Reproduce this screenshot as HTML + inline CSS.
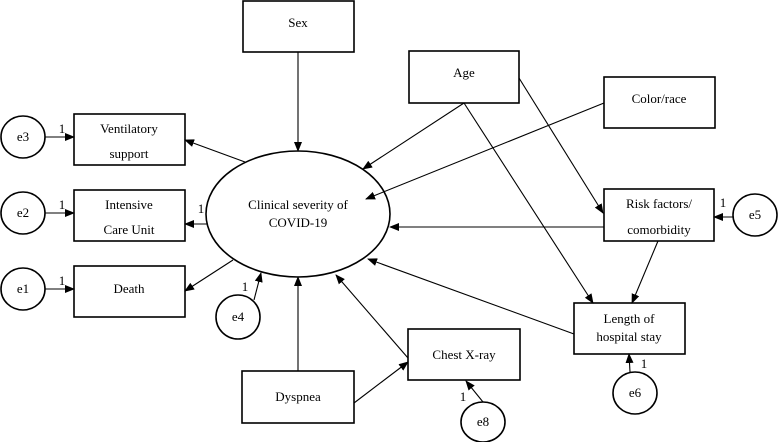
<!DOCTYPE html>
<html><head><meta charset="utf-8"><style>
html,body{margin:0;padding:0;background:#fff;}
svg{display:block;}
text{font-family:"Liberation Serif",serif;font-size:13px;fill:#000;}
</style></head><body>
<svg width="778" height="442" viewBox="0 0 778 442" xmlns="http://www.w3.org/2000/svg">
<defs><marker id="a" markerWidth="10" markerHeight="8" refX="9" refY="4" orient="auto" markerUnits="userSpaceOnUse"><path d="M0,0 L10,4 L0,8 z" fill="#000"/></marker></defs>
<g fill="#fff" stroke="#000" stroke-width="1.6">
<rect x="74" y="114" width="111" height="51"/>
<rect x="74" y="190" width="111" height="51"/>
<rect x="74" y="266" width="111" height="51"/>
<rect x="243" y="1" width="111" height="51"/>
<rect x="409" y="51" width="110" height="52"/>
<rect x="604" y="77" width="111" height="51"/>
<rect x="604" y="189" width="110" height="52"/>
<rect x="574" y="303" width="111" height="51"/>
<rect x="408" y="329" width="112" height="51"/>
<rect x="242" y="371" width="112" height="52"/>
<ellipse cx="298" cy="214" rx="92" ry="63"/>
<ellipse cx="23" cy="137" rx="22" ry="21"/>
<ellipse cx="23" cy="213" rx="22" ry="21"/>
<ellipse cx="23" cy="289" rx="22" ry="21"/>
<ellipse cx="238" cy="317" rx="22" ry="22"/>
<ellipse cx="755" cy="215" rx="22" ry="21"/>
<ellipse cx="635" cy="393" rx="22" ry="21"/>
<ellipse cx="483" cy="422" rx="22" ry="20"/>
</g>
<g stroke="#000" stroke-width="1.1" marker-end="url(#a)">
<line x1="45" y1="137" x2="74" y2="137"/>
<line x1="45" y1="213" x2="74" y2="213"/>
<line x1="45" y1="289" x2="74" y2="289"/>
<line x1="245" y1="162" x2="185" y2="140"/>
<line x1="207" y1="224" x2="185" y2="224"/>
<line x1="233" y1="260" x2="185" y2="291"/>
<line x1="298" y1="52" x2="298" y2="151"/>
<line x1="464" y1="103" x2="363" y2="169"/>
<line x1="464" y1="103" x2="593" y2="303"/>
<line x1="519" y1="78" x2="603" y2="213"/>
<line x1="604" y1="103" x2="366" y2="199"/>
<line x1="604" y1="227" x2="390" y2="227"/>
<line x1="658" y1="241" x2="632" y2="303"/>
<line x1="574" y1="334" x2="368" y2="259"/>
<line x1="298" y1="371" x2="298" y2="277"/>
<line x1="354" y1="403" x2="408" y2="362"/>
<line x1="408" y1="358" x2="336" y2="275"/>
<line x1="254" y1="300" x2="261" y2="273"/>
<line x1="483" y1="402" x2="466" y2="381"/>
<line x1="630" y1="372" x2="629" y2="354"/>
<line x1="733" y1="217" x2="714" y2="217"/>
</g>
<g text-anchor="middle">
<text x="129" y="133">Ventilatory</text><text x="129" y="158">support</text>
<text x="129" y="209">Intensive</text><text x="129" y="234">Care Unit</text>
<text x="129" y="293">Death</text>
<text x="298" y="27">Sex</text>
<text x="464" y="77">Age</text>
<text x="659" y="103">Color/race</text>
<text x="659" y="208">Risk factors/</text><text x="659" y="234">comorbidity</text>
<text x="629" y="323">Length of</text><text x="629" y="341">hospital stay</text>
<text x="464" y="359">Chest X-ray</text>
<text x="298" y="401">Dyspnea</text>
<text x="298" y="209">Clinical severity of</text><text x="298" y="227">COVID-19</text>
<text x="23" y="141">e3</text><text x="23" y="217">e2</text><text x="23" y="293">e1</text>
<text x="238" y="321">e4</text><text x="755" y="219">e5</text><text x="635" y="397">e6</text><text x="483" y="426">e8</text>
<text x="62" y="133">1</text><text x="62" y="209">1</text><text x="62" y="285">1</text>
<text x="201" y="213">1</text><text x="245" y="291">1</text><text x="723" y="207">1</text>
<text x="644" y="368">1</text><text x="463" y="401">1</text>
</g>
</svg>
</body></html>
